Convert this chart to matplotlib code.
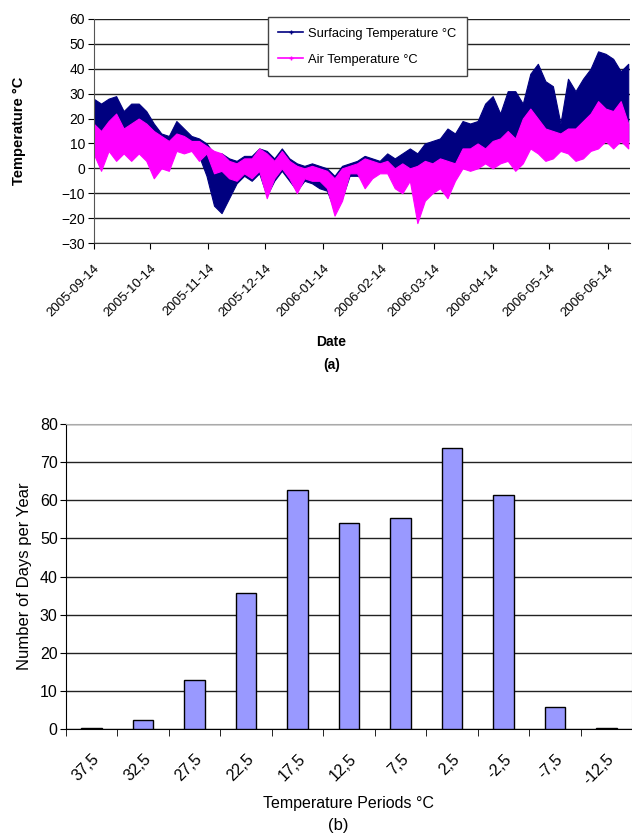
import pandas as pd
import matplotlib
matplotlib.use("Agg")
import matplotlib.pyplot as plt
from matplotlib.lines import Line2D

plt.rcParams['font.family'] = ['Liberation Sans', 'DejaVu Sans']

# (a) temperature record, every 4 days from 2005-09-14
days = list(range(0, 288, 4))
surf_hi = [28, 26, 28, 29, 23, 26, 26, 23, 18, 14, 13, 19, 16, 13, 12, 10, 6, 6,
           4, 3, 5, 5, 8, 7, 4, 8, 4, 2, 1, 2, 1, 0, -3, 1, 2, 3,
           5, 4, 3, 6, 4, 6, 8, 6, 10, 11, 12, 16, 14, 19, 18, 19, 26,
           29, 22, 31, 31, 26, 38, 42, 35, 33, 18, 36, 31, 36, 40, 47, 46, 44, 39, 42]
surf_lo = [8, 1, 9, 5, 8, 5, 8, 5, -2, 2, 1, 9, 8, 9, 5, -3, -15, -18,
           -12, -6, -3, -5, -2, -11, -5, -1, -5, -9, -5, -6, -8, -9, -17, -12, -3, -3,
           -4, -3, -1, -1, -6, -8, -4, -15, -10, -8, -6, -9, -3, 2, 1, 2, 4,
           3, 5, 6, 2, 5, 11, 9, 6, 7, 10, 9, 6, 7, 10, 11, 14, 11, 14, 11]
air_hi = [18, 15, 19, 22, 16, 18, 20, 18, 15, 13, 11, 14, 13, 11, 11, 9, 7, 6,
          3, 2, 4, 4, 8, 6, 3, 7, 3, 1, 0, 1, 0, -1, -4, 0, 1, 2,
          4, 3, 2, 3, 0, 2, 0, 1, 3, 2, 4, 3, 2, 8, 8, 10, 8,
          11, 12, 15, 12, 20, 24, 20, 16, 15, 14, 16, 16, 19, 22, 27, 24, 23, 27, 18]
air_lo = [6, -1, 7, 3, 6, 3, 6, 3, -4, 0, -1, 7, 6, 7, 3, 6, -2, -1,
          -4, -5, -2, -4, -1, -12, -4, 0, -4, -10, -4, -5, -5, -8, -19, -13, -2, -2,
          -8, -4, -2, -2, -8, -10, -5, -22, -13, -10, -8, -12, -5, 0, -1, 0, 2,
          0, 2, 3, -1, 2, 8, 6, 3, 4, 7, 6, 3, 4, 7, 8, 11, 8, 11, 8]

# (b) histogram
periods = ['37,5', '32,5', '27,5', '22,5', '17,5', '12,5', '7,5', '2,5', '-2,5', '-7,5', '-12,5']
n_days = [0.3, 2.5, 12.8, 35.8, 62.7, 54.1, 55.4, 73.8, 61.4, 5.8, 0.3]

start = pd.Timestamp('2005-09-14')
dates = start + pd.to_timedelta(days, unit='D')

fig = plt.figure(figsize=(6.32, 8.4), dpi=100)

# ---------- (a) ----------
ax1 = fig.add_axes([0.148, 0.7107, 0.849, 0.2667])
ax1.fill_between(dates, surf_lo, surf_hi, color='#000080', lw=0.8)
ax1.fill_between(dates, air_lo, air_hi, color='#FF00FF', lw=0.8)

ax1.set_ylim(-30, 60)
ax1.set_yticks(range(-30, 61, 10))
ax1.set_xlim(start, pd.Timestamp('2006-06-26'))
ticks = pd.date_range('2005-09-14', periods=10, freq=pd.DateOffset(months=1))
ax1.set_xticks(ticks)
ax1.set_xticklabels([t.strftime('%Y-%m-%d') for t in ticks], rotation=45, ha='right',
                    rotation_mode='anchor', fontsize=9.5)
ax1.tick_params(axis='y', labelsize=10, length=4, pad=2)
ax1.tick_params(axis='x', length=4, pad=10)
ax1.grid(axis='y', color='#222222', lw=1)
ax1.set_axisbelow(True)
for s in ['top', 'right']:
    ax1.spines[s].set_visible(False)
ax1.spines['left'].set_color('#555555')
ax1.spines['bottom'].set_color('#333333')
ax1.set_ylabel('Temperature °C', fontweight='bold', fontsize=10.5)
ax1.yaxis.set_label_coords(-0.125, 0.5)
ax1.set_xlabel('Date', fontweight='bold', fontsize=10)
ax1.xaxis.set_label_coords(0.442, -0.41)
fig.text(0.525, 0.5655, '(a)', fontweight='bold', fontsize=10, ha='center', va='center')

handles = [Line2D([], [], color='#000080', lw=1.2, marker='+', ms=3),
           Line2D([], [], color='#FF00FF', lw=1.2, marker='+', ms=3)]
leg = ax1.legend(handles, ['Surfacing Temperature °C', 'Air Temperature °C'],
                 loc='upper left', bbox_to_anchor=(0.325, 1.008), fontsize=9.3,
                 fancybox=False, shadow=False, framealpha=1, edgecolor='#444444',
                 handlelength=1.9, handletextpad=0.4, borderpad=0.8, labelspacing=1.1,
                 borderaxespad=0)

# ---------- (b) ----------
ax2 = fig.add_axes([0.1044, 0.1321, 0.8956, 0.3631])
pos = range(len(periods))
ax2.bar(pos, n_days, width=0.4, color='#9999FF', edgecolor='black', lw=1, zorder=3)
ax2.set_xlim(-0.5, len(periods) - 0.5)
ax2.set_ylim(0, 80)
ax2.set_yticks(range(0, 81, 10))
ax2.set_xticks(list(pos))
ax2.set_xticklabels(periods, rotation=45, ha='right', rotation_mode='anchor', fontsize=11.5)
ax2.set_xticks([p - 0.5 for p in pos], minor=True)
ax2.tick_params(axis='x', which='major', length=0, pad=16)
ax2.tick_params(axis='x', which='minor', length=5)
ax2.tick_params(axis='y', labelsize=11.5, length=4, pad=2)
ax2.grid(axis='y', color='#222222', lw=1, zorder=0)
ax2.set_axisbelow(True)
ax2.spines['top'].set_color('#aaaaaa')
ax2.spines['right'].set_color('#aaaaaa')
ax2.set_ylabel('Number of Days per Year', fontsize=12)
ax2.yaxis.set_label_coords(-0.06, 0.5)
ax2.set_xlabel('Temperature Periods °C', fontsize=11.5)
ax2.xaxis.set_label_coords(0.5, -0.22)
fig.text(0.535, 0.017, '(b)', fontsize=12, ha='center', va='center')

fig.savefig('out.png', dpi=100)
